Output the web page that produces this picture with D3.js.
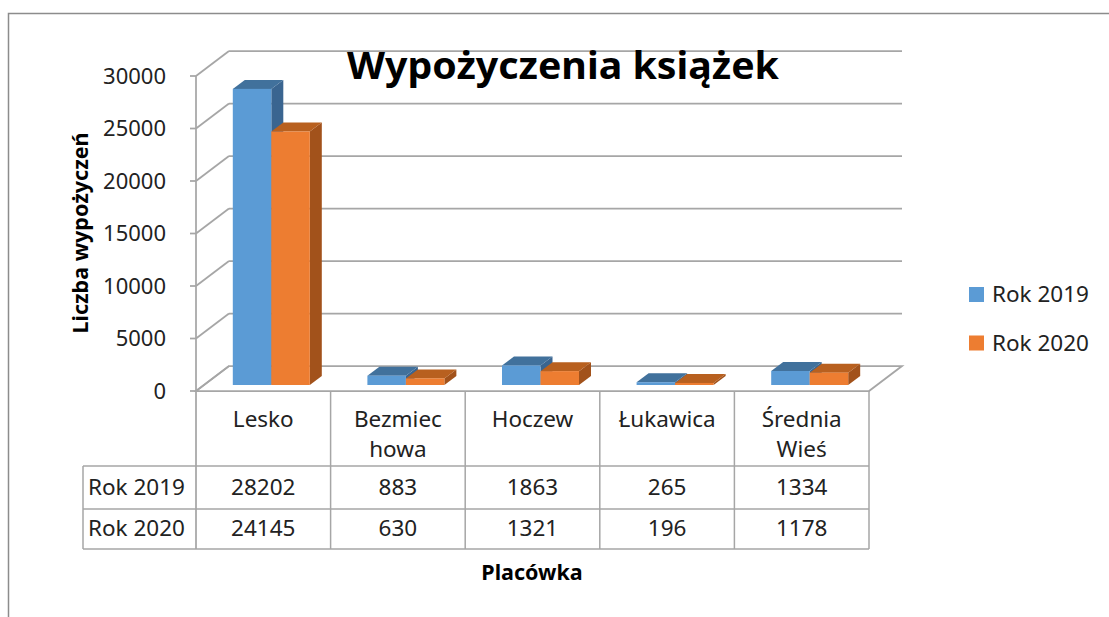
<!DOCTYPE html>
<html><head><meta charset="utf-8">
<script src="https://cdn.jsdelivr.net/npm/d3@7/dist/d3.min.js"></script>
<style>body{margin:0;background:#fff}svg{display:block}text{font-family:"Noto Sans",sans-serif;fill:#222}</style>
</head><body>
<svg id="c" width="1109" height="617"></svg>
<script>
const categories = ["Lesko", "Bezmiechowa", "Hoczew", "Łukawica", "Średnia Wieś"];
const categoryLines = [["Lesko"], ["Bezmiec", "howa"], ["Hoczew"], ["Łukawica"], ["Średnia", "Wieś"]];
const seriesNames = ["Rok 2019", "Rok 2020"];
const values2019 = [28202, 883, 1863, 265, 1334];
const values2020 = [24145, 630, 1321, 196, 1178];
const yTicks = [0, 5000, 10000, 15000, 20000, 25000, 30000];
const colors = ["#5B9BD5", "#ED7D31"];
const topColors = ["#41719C", "#B8601F"];
const sideColors = ["#3A6590", "#A2521B"];

const svg = d3.select("#c");
const grid = "#A6A6A6";

// geometry
const x0 = 196, x1 = 869, yBase = 391, yTop = 76;
const DX = 33, DY = -25;        // wall depth
const fx = 8, fy = -6;          // bar front face offset into scene
const bdx = 12, bdy = -9;       // bar depth

const x = d3.scaleBand().domain(categories).range([x0, x1]).padding(0);
const xs = d3.scaleBand().domain(seriesNames).range([-38.5, 38.5]).padding(0);
const y = d3.scaleLinear().domain([0, 30000]).range([yBase, yTop]);

// outer border
svg.append("path").attr("d", "M8.5,617V13.5H1109").attr("fill", "none").attr("stroke", "#8C8C8C").attr("stroke-width", 1.5);

// back wall gridlines
svg.append("g").selectAll("line").data(yTicks.filter(d => d > 0)).join("line")
  .attr("x1", x0 + DX).attr("x2", x1 + DX)
  .attr("y1", d => y(d) + DY).attr("y2", d => y(d) + DY)
  .attr("stroke", grid).attr("stroke-width", 1.75);
// side wall diagonals
svg.append("g").selectAll("line").data(yTicks).join("line")
  .attr("x1", x0).attr("x2", x0 + DX)
  .attr("y1", d => y(d)).attr("y2", d => y(d) + DY)
  .attr("stroke", grid).attr("stroke-width", 1.75);
// floor
svg.append("path")
  .attr("d", `M${x0},${yBase}L${x1},${yBase}L${x1 + DX},${yBase + DY}L${x0 + DX},${yBase + DY}Z`)
  .attr("fill", "none").attr("stroke", grid).attr("stroke-width", 1.75);
// y axis
svg.append("line").attr("x1", x0).attr("x2", x0).attr("y1", yTop).attr("y2", 549)
  .attr("stroke", grid).attr("stroke-width", 1.75);
svg.append("g").selectAll("line").data(yTicks).join("line")
  .attr("x1", x0 - 6).attr("x2", x0).attr("y1", d => y(d)).attr("y2", d => y(d))
  .attr("stroke", grid).attr("stroke-width", 1.75);
svg.append("g").selectAll("text").data(yTicks).join("text")
  .attr("x", 166).attr("y", d => y(d)).attr("dy", "0.36em").attr("text-anchor", "end")
  .style("font-size", "22px").text(d => d);

// bars
const bars = [];
categories.forEach((c, i) => {
  [values2019[i], values2020[i]].forEach((v, s) => {
    bars.push({c, s, v});
  });
});
const bg = svg.append("g");
bars.forEach(b => {
  const left = x(b.c) + x.bandwidth() / 2 + fx + xs(seriesNames[b.s]);
  const right = left + xs.bandwidth();
  const bot = y(0) + fy;
  const top = y(b.v) + fy;
  const g = bg.append("g");
  g.append("path").attr("d", `M${right},${bot}L${right + bdx},${bot + bdy}L${right + bdx},${top + bdy}L${right},${top}Z`)
    .attr("fill", sideColors[b.s]);
  g.append("path").attr("d", `M${left},${top}L${left + bdx},${top + bdy}L${right + bdx},${top + bdy}L${right},${top}Z`)
    .attr("fill", topColors[b.s]);
  g.append("rect").attr("x", left).attr("y", top).attr("width", right - left).attr("height", bot - top)
    .attr("fill", colors[b.s]);
});

// data table
const tg = svg.append("g");
const colEdges = categories.map(c => x(c)).concat([x1]);
tg.selectAll("line.v").data(colEdges.slice(1)).join("line")
  .attr("x1", d => d).attr("x2", d => d).attr("y1", yBase).attr("y2", 549)
  .attr("stroke", grid).attr("stroke-width", 1.5);
tg.append("line").attr("x1", 83).attr("x2", 83).attr("y1", 466).attr("y2", 549).attr("stroke", grid).attr("stroke-width", 1.5);
[466, 509, 549].forEach(yy => tg.append("line").attr("x1", 83).attr("x2", x1).attr("y1", yy).attr("y2", yy)
  .attr("stroke", grid).attr("stroke-width", 1.5));
categories.forEach((c, i) => {
  const t = tg.append("text").attr("x", x(c) + x.bandwidth() / 2).attr("y", 427)
    .attr("text-anchor", "middle").style("font-size", "22.5px");
  categoryLines[i].forEach((ln, k) => t.append("tspan").attr("x", x(c) + x.bandwidth() / 2).attr("y", 427 + k * 30).text(ln));
});
const rowY = [495, 536];
[values2019, values2020].forEach((vals, r) => {
  tg.append("text").attr("x", 88).attr("y", rowY[r]).style("font-size", "22.5px").text(seriesNames[r]);
  tg.selectAll(null).data(vals).join("text")
    .attr("x", (d, i) => x(categories[i]) + x.bandwidth() / 2).attr("y", rowY[r])
    .attr("text-anchor", "middle").style("font-size", "22.5px").text(d => d);
});

// titles
svg.append("text").attr("x", 563).attr("y", 79).attr("text-anchor", "middle")
  .attr("textLength", 432).attr("lengthAdjust", "spacingAndGlyphs")
  .style("font-size", "38px").style("font-weight", "bold").style("fill", "#000").text("Wypożyczenia książek");
svg.append("text").attr("transform", "translate(88,233) rotate(-90)").attr("text-anchor", "middle")
  .style("font-size", "21.5px").style("font-weight", "bold").style("fill", "#000").text("Liczba wypożyczeń");
svg.append("text").attr("x", 532).attr("y", 580).attr("text-anchor", "middle")
  .style("font-size", "21.5px").style("font-weight", "bold").style("fill", "#000").text("Placówka");

// legend
const lg = svg.append("g");
seriesNames.forEach((s, i) => {
  lg.append("rect").attr("x", 969).attr("y", 287 + i * 48.5).attr("width", 15).attr("height", 15).attr("fill", colors[i]);
  lg.append("text").attr("x", 992).attr("y", 302 + i * 48.5).style("font-size", "22.5px").text(s);
});
</script>
</body></html>
